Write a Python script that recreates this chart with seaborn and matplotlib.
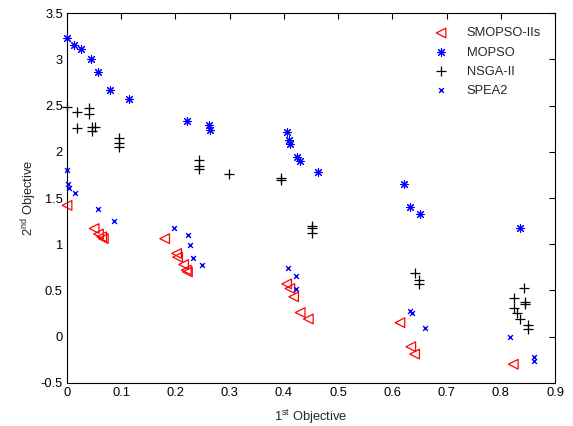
import numpy as np
import pandas as pd
import matplotlib
matplotlib.use("Agg")
import matplotlib.pyplot as plt
from matplotlib.markers import MarkerStyle
import seaborn as sns

# Pareto fronts found by each algorithm (objective 1, objective 2)
smopso_x = [0.000, 0.050, 0.058, 0.064, 0.067, 0.180, 0.202, 0.204, 0.215, 0.220,
            0.222, 0.405, 0.411, 0.418, 0.430, 0.445, 0.614, 0.634, 0.641, 0.823]
smopso_y = [1.42, 1.17, 1.11, 1.08, 1.06, 1.06, 0.90, 0.86, 0.78, 0.72,
            0.70, 0.57, 0.52, 0.43, 0.26, 0.19, 0.15, -0.11, -0.19, -0.30]

mopso_x = [0.000, 0.013, 0.025, 0.044, 0.057, 0.079, 0.114, 0.222, 0.261, 0.263,
           0.406, 0.410, 0.412, 0.424, 0.429, 0.462, 0.622, 0.633, 0.651, 0.836]
mopso_y = [3.23, 3.16, 3.11, 3.00, 2.86, 2.67, 2.57, 2.33, 2.29, 2.24,
           2.22, 2.13, 2.08, 1.94, 1.90, 1.78, 1.65, 1.40, 1.33, 1.17]

nsga_x = [0.000, 0.018, 0.018, 0.041, 0.041, 0.046, 0.052, 0.046, 0.095, 0.095,
          0.095, 0.244, 0.244, 0.244, 0.298, 0.395, 0.395, 0.451, 0.452, 0.452,
          0.641, 0.650, 0.650, 0.842, 0.825, 0.845, 0.845, 0.825, 0.830, 0.836,
          0.850, 0.850]
nsga_y = [2.48, 2.43, 2.26, 2.47, 2.41, 2.27, 2.27, 2.23, 2.15, 2.10,
          2.05, 1.91, 1.85, 1.81, 1.76, 1.72, 1.69, 1.20, 1.17, 1.12,
          0.69, 0.61, 0.57, 0.53, 0.42, 0.37, 0.35, 0.31, 0.26, 0.19,
          0.12, 0.08]

spea_x = [0.000, 0.002, 0.004, 0.015, 0.057, 0.087, 0.198, 0.224, 0.226, 0.233,
          0.248, 0.408, 0.423, 0.423, 0.632, 0.637, 0.661, 0.817, 0.862, 0.862]
spea_y = [1.80, 1.65, 1.61, 1.55, 1.38, 1.25, 1.18, 1.10, 0.99, 0.85,
          0.78, 0.74, 0.66, 0.52, 0.28, 0.26, 0.09, -0.01, -0.22, -0.27]

labels = ["SMOPSO-IIs", "MOPSO", "NSGA-II", "SPEA2"]

x_ticks = [0, 0.1, 0.2, 0.3, 0.4, 0.5, 0.6, 0.7, 0.8, 0.9]
y_ticks = [-0.5, 0, 0.5, 1, 1.5, 2, 2.5, 3, 3.5]

sns.set_theme(style="white")
plt.rcParams["font.family"] = ["Liberation Sans", "DejaVu Sans"]
plt.rcParams["mathtext.fontset"] = "custom"
plt.rcParams["mathtext.rm"] = "Liberation Sans"
plt.rcParams["axes.unicode_minus"] = False

FS = 9.3

fig = plt.figure(figsize=(5.73, 4.26), dpi=100)
ax = fig.add_axes([0.117, 0.1016, 0.8516, 0.8672])

series = [
    (smopso_x, smopso_y, labels[0], MarkerStyle("<", fillstyle="none"), "#ff0000", 48, 0.9),
    (mopso_x, mopso_y, labels[1], (8, 2, 0), "#0000ff", 32, 0.8),
    (nsga_x, nsga_y, labels[2], "+", "#000000", 45, 0.9),
    (spea_x, spea_y, labels[3], "x", "#0000ff", 12, 1.0),
]

for xs, ys, lab, mk, col, size, lw in series:
    df = pd.DataFrame({"f1": xs, "f2": ys})
    sns.scatterplot(data=df, x="f1", y="f2", marker=mk, color=col, s=size,
                    linewidths=lw, label=lab, ax=ax, legend=False,
                    clip_on=False, zorder=3)

ax.set_xlim(0, 0.9)
ax.set_ylim(-0.5, 3.5)
ax.set_xticks(x_ticks)
ax.set_yticks(y_ticks)
ax.set_xticklabels([f"{t:g}" for t in x_ticks])
ax.set_yticklabels([f"{t:g}" for t in y_ticks])
ax.tick_params(direction="in", length=4, width=0.8, colors="#000000",
               labelsize=FS, top=True, right=True, pad=3)
for sp in ax.spines.values():
    sp.set_color("#000000")
    sp.set_linewidth(0.8)

ax.set_xlabel(r"1$^{\mathrm{st}}$ Objective", fontsize=FS)
ax.set_ylabel(r"2$^{\mathrm{nd}}$ Objective", fontsize=FS)
ax.xaxis.set_label_coords(0.5, -0.068)
ax.yaxis.set_label_coords(-0.058, 0.5)

handles = ax.collections
leg = ax.legend(handles, labels, loc="upper right", frameon=False, fontsize=FS,
                bbox_to_anchor=(0.998, 0.997), labelspacing=0.55, handletextpad=1.0,
                borderaxespad=0.6)

fig.savefig("out.png", dpi=100)
